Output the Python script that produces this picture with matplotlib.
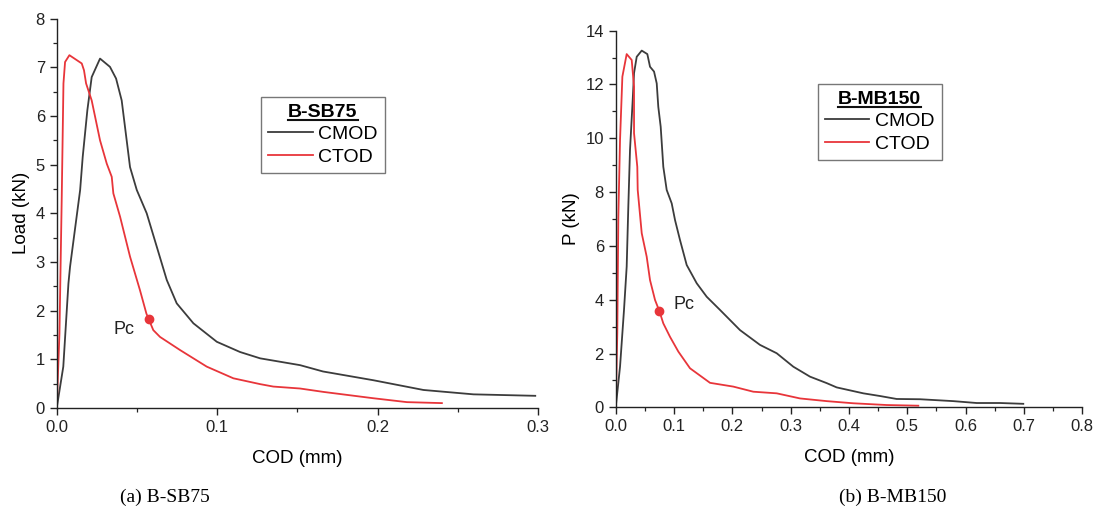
"""Load / P versus COD curves for the two beams, CMOD and CTOD, with Pc marked."""

import matplotlib

matplotlib.use("Agg")
import matplotlib.pyplot as plt
from matplotlib.lines import Line2D
from matplotlib.ticker import MultipleLocator

plt.rcParams["font.family"] = ["Liberation Sans", "DejaVu Sans"]

# ---- (a) B-SB75 ----
sb_cmod_x = [0.0, 0.0041, 0.0073, 0.0083, 0.0146, 0.0162, 0.0191, 0.0218, 0.027,
             0.0332, 0.037, 0.0405, 0.0457, 0.0499, 0.0561, 0.0624, 0.0686, 0.0748,
             0.0852, 0.0998, 0.1143, 0.1268, 0.1517, 0.166, 0.1974, 0.2286, 0.2598,
             0.2983]
sb_cmod_y = [0.0, 0.85, 2.56, 2.9, 4.48, 5.16, 6.12, 6.80, 7.18,
             7.01, 6.77, 6.32, 4.95, 4.48, 4.0, 3.31, 2.63, 2.15,
             1.74, 1.36, 1.15, 1.02, 0.88, 0.75, 0.57, 0.37, 0.28,
             0.25]
sb_ctod_x = [0.0, 0.0017, 0.0031, 0.0042, 0.0052, 0.0079, 0.0156, 0.017, 0.0183,
             0.0218, 0.027, 0.0312, 0.0343, 0.0353, 0.0395, 0.0457, 0.0519, 0.0559,
             0.0574, 0.0602, 0.0644, 0.0769, 0.0935, 0.1101, 0.1268, 0.135, 0.1517,
             0.1663, 0.1974, 0.2183, 0.2401]
sb_ctod_y = [0.0, 1.53, 4.27, 6.67, 7.11, 7.25, 7.08, 6.94, 6.67,
             6.32, 5.5, 5.02, 4.75, 4.41, 3.93, 3.11, 2.42, 1.94,
             1.82, 1.60, 1.46, 1.19, 0.85, 0.61, 0.49, 0.44, 0.40,
             0.33, 0.20, 0.12, 0.10]
sb_pc = (0.0574, 1.82)

# ---- (b) B-MB150 ----
mb_cmod_x = [0.0, 0.0074, 0.0142, 0.0188, 0.0216, 0.0245, 0.0291, 0.0314, 0.036,
             0.0446, 0.0542, 0.0588, 0.0657, 0.0703, 0.073, 0.0771, 0.0816, 0.0874,
             0.096, 0.1017, 0.1102, 0.1217, 0.1389, 0.156, 0.1788, 0.2131, 0.2474,
             0.276, 0.3045, 0.3331, 0.3617, 0.3789, 0.4245, 0.4531, 0.4817, 0.5217,
             0.5788, 0.6189, 0.6589, 0.6988]
mb_cmod_y = [0.0, 1.51, 3.62, 5.23, 7.46, 9.57, 11.42, 12.42, 13.03,
             13.26, 13.13, 12.66, 12.48, 12.04, 11.17, 10.43, 8.94, 8.08,
             7.58, 6.96, 6.22, 5.29, 4.61, 4.11, 3.62, 2.87, 2.32,
             2.01, 1.51, 1.14, 0.90, 0.74, 0.52, 0.42, 0.31, 0.30,
             0.23, 0.16, 0.16, 0.13]
mb_ctod_x = [0.0, 0.0027, 0.0045, 0.0074, 0.0114, 0.0188, 0.0274, 0.0314, 0.0314,
             0.037, 0.0377, 0.0446, 0.0531, 0.0588, 0.0674, 0.0748, 0.0816, 0.0931,
             0.1074, 0.1274, 0.1617, 0.2016, 0.2359, 0.276, 0.316, 0.3617, 0.3845,
             0.4074, 0.4646, 0.5188]
mb_ctod_y = [0.0, 2.75, 7.09, 9.94, 12.29, 13.13, 12.91, 11.92, 10.19,
             8.94, 8.08, 6.47, 5.6, 4.73, 3.99, 3.58, 3.12, 2.62,
             2.07, 1.45, 0.91, 0.77, 0.58, 0.52, 0.33, 0.23, 0.19,
             0.15, 0.085, 0.06]
mb_pc = (0.0748, 3.58)

BLACK = "#3c3c3c"
RED = "#e8353a"

fig = plt.figure(figsize=(10.95, 5.08), dpi=100)


def draw_panel(rect, cmod, ctod, pc, pc_text_xy, ylabel, xlim, ylim,
               xmaj, xmin, ymaj, ymin, legend_title, legend_anchor,
               caption, caption_x):
    ax = fig.add_axes(rect)
    ax.plot(cmod[0], cmod[1], color=BLACK, linewidth=1.3, label="CMOD")
    ax.plot(ctod[0], ctod[1], color=RED, linewidth=1.3, label="CTOD")
    ax.plot([pc[0]], [pc[1]], "o", color=RED, markersize=6)
    ax.annotate("Pc", xy=pc, xytext=pc_text_xy, textcoords="offset points",
                fontsize=13, ha="center", va="center", color="#222222")

    ax.set_xlim(*xlim)
    ax.set_ylim(*ylim)
    ax.xaxis.set_major_locator(MultipleLocator(xmaj))
    ax.xaxis.set_minor_locator(MultipleLocator(xmin))
    ax.yaxis.set_major_locator(MultipleLocator(ymaj))
    ax.yaxis.set_minor_locator(MultipleLocator(ymin))
    ax.xaxis.set_major_formatter(lambda v, p: f"{v:.1f}")
    ax.yaxis.set_major_formatter(lambda v, p: f"{v:.0f}")
    for side in ("top", "right"):
        ax.spines[side].set_visible(False)
    for side in ("left", "bottom"):
        ax.spines[side].set_color("#222222")
        ax.spines[side].set_linewidth(1.0)
    ax.tick_params(which="major", direction="out", length=5, width=1.0,
                   labelsize=12, colors="#222222")
    ax.tick_params(which="minor", direction="out", length=3, width=0.9,
                   colors="#222222")
    ax.set_xlabel("COD (mm)", fontsize=13.5, labelpad=11)
    ax.set_ylabel(ylabel, fontsize=13.5, labelpad=4)

    leg = ax.legend(title=legend_title, loc="upper left",
                    bbox_to_anchor=legend_anchor, bbox_transform=fig.transFigure,
                    borderaxespad=0, fancybox=False, framealpha=1,
                    edgecolor="#777777", fontsize=14, handlelength=2.3,
                    handletextpad=0.3, borderpad=0.35, labelspacing=0.25)
    leg.get_frame().set_linewidth(1.0)
    leg.get_title().set_fontsize(14)
    leg.get_title().set_fontweight("bold")

    fig.text(caption_x, 0.02, caption, ha="center", va="center",
             fontsize=14, family=["Liberation Serif", "DejaVu Serif"])
    return leg


legends = []
legends.append(draw_panel(
    [0.0518, 0.1969, 0.4395, 0.7663],
    (sb_cmod_x, sb_cmod_y), (sb_ctod_x, sb_ctod_y), sb_pc, (-18, -7),
    "Load (kN)", (0, 0.3), (0, 8), 0.1, 0.05, 1, 0.5,
    "B-SB75", (0.2384, 0.8091), "(a) B-SB75", 0.151))
legends.append(draw_panel(
    [0.5623, 0.1982, 0.4261, 0.7414],
    (mb_cmod_x, mb_cmod_y), (mb_ctod_x, mb_ctod_y), mb_pc, (18, 5),
    "P (kN)", (0, 0.8), (0, 14), 0.1, 0.05, 2, 1,
    "B-MB150", (0.747, 0.8346), "(b) B-MB150", 0.815))

# underline the bold legend titles
fig.canvas.draw()
renderer = fig.canvas.get_renderer()
for leg in legends:
    bb = leg.get_title().get_window_extent(renderer)
    fig.add_artist(Line2D([bb.x0, bb.x1], [bb.y0 + 1.0, bb.y0 + 1.0],
                          transform=None, color="#111111", linewidth=1.5))

fig.savefig("out.png", dpi=100)
plt.close(fig)
